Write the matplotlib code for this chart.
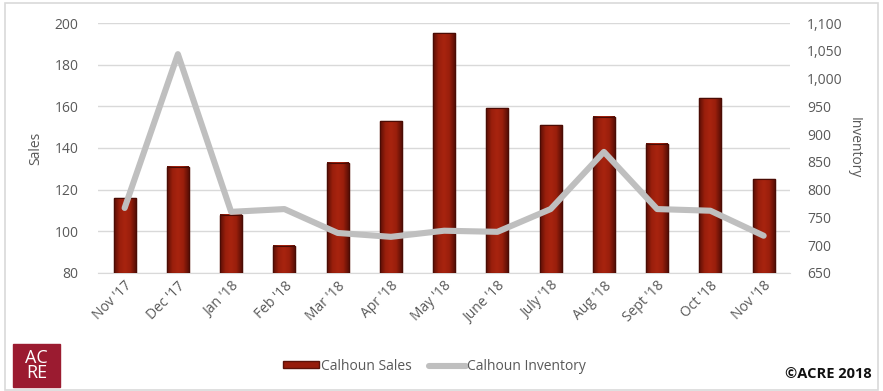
import numpy as np
import matplotlib.pyplot as plt
from matplotlib.patches import Rectangle
from matplotlib.colors import LinearSegmentedColormap

months = ["Nov '17", "Dec '17", "Jan '18", "Feb '18", "Mar '18", "Apr '18", "May '18",
          "June '18", "July '18", "Aug '18", "Sept '18", "Oct '18", "Nov '18"]
sales = [116, 131, 108, 93, 133, 153, 195, 159, 151, 155, 142, 164, 125]
inventory = [767, 1044, 760, 765, 722, 715, 726, 724, 765, 868, 765, 762, 717]

plt.rcParams['font.family'] = ['Open Sans', 'DejaVu Sans']
grey = '#595959'

fig = plt.figure(figsize=(8.83, 3.91), dpi=100)
fig.patches.append(Rectangle((0.006, 0.003), 0.988, 0.99, transform=fig.transFigure,
                             fill=False, edgecolor='#d9d9d9', linewidth=1.2))

ax = fig.add_axes([0.111, 0.302, 0.784, 0.639])
ax2 = ax.twinx()
ax.set_zorder(ax2.get_zorder() - 1)
ax.patch.set_visible(True)
ax2.patch.set_visible(False)

x = range(len(months))
bars = ax.bar(x, sales, width=0.41, color='#961c0b', edgecolor='#5c1208',
              linewidth=1.0, label='Calhoun Sales', zorder=3)

# horizontal shading on each bar (dark edges, brighter middle)
cmap = LinearSegmentedColormap.from_list('bar', ['#5a0f06', '#9a1f0c', '#a8240f', '#9a1f0c', '#5a0f06'])
grad = np.linspace(0, 1, 64).reshape(1, -1)
ax.set_ylim(80, 200)
for b in bars:
    bx, bw, bh = b.get_x(), b.get_width(), b.get_height()
    ax.imshow(grad, cmap=cmap, aspect='auto', extent=(bx, bx + bw, 80, bh),
              zorder=3.5, interpolation='bilinear')
    ax.add_patch(Rectangle((bx, 80), bw, bh - 80, fill=False, edgecolor='#4a0c05',
                           linewidth=0.8, zorder=3.6))

ax2.plot(x, inventory, color='#bfbfbf', linewidth=4.4, label='Calhoun Inventory',
         solid_joinstyle='round', solid_capstyle='round', zorder=4)

ax.set_ylim(80, 200)
ax.set_yticks(range(80, 201, 20))
ax2.set_ylim(650, 1100)
ax2.set_yticks(range(650, 1101, 50))
ax2.set_yticklabels([f"{v:,}" for v in range(650, 1101, 50)])
ax.set_xlim(-0.5, len(months) - 0.5)
ax.set_xticks(list(x))
ax.set_xticklabels(months, rotation=45, ha='right', rotation_mode='anchor')

ax.grid(axis='y', color='#d9d9d9', linewidth=1.0, zorder=0)
for a in (ax, ax2):
    for s in a.spines.values():
        s.set_visible(False)
    a.tick_params(length=0, labelsize=10, colors=grey)
ax.spines['bottom'].set_visible(True)
ax.spines['bottom'].set_color('#d9d9d9')
ax.tick_params(axis='y', pad=14)
ax2.tick_params(axis='y', pad=12)
ax.tick_params(axis='x', pad=4)

ax.set_ylabel('Sales', color=grey, fontsize=10, labelpad=8)
ax2.set_ylabel('Inventory', color=grey, fontsize=10, rotation=-90, labelpad=14)

h1, l1 = ax.get_legend_handles_labels()
h2, l2 = ax2.get_legend_handles_labels()
fig.legend(h1 + h2, l1 + l2, loc='center', bbox_to_anchor=(0.492, 0.063), ncol=2,
           frameon=False, fontsize=10, labelcolor=grey, handlelength=2.6,
           handleheight=0.4, columnspacing=1.3, handletextpad=0.1)

fig.patches.append(Rectangle((13 / 883, 4 / 391), 47 / 883, 43 / 391,
                             transform=fig.transFigure, color='#9b1b30'))
fig.text(36.5 / 883, 25.5 / 391, 'AC\nRE', color='white', fontsize=13,
         ha='center', va='center', linespacing=0.85)
fig.text(0.987, 0.025, '©ACRE 2018', ha='right', va='bottom', fontsize=10.5,
         fontweight='bold', color='#111111')

fig.savefig('out.png', dpi=100)
